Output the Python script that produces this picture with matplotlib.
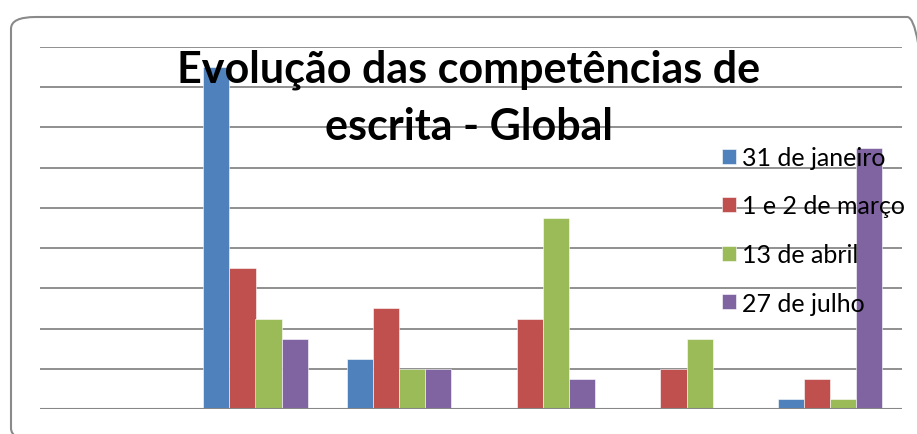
import numpy as np
import matplotlib.pyplot as plt
from matplotlib.patches import FancyBboxPatch

# data (levels 0..5, counts per session)
levels = ["0", "1", "2", "3", "4", "5"]
series = ["31 de janeiro", "1 e 2 de março", "13 de abril", "27 de julho"]
jan = [0, 34, 5, 0, 0, 1]
mar = [0, 14, 10, 9, 4, 3]
abr = [0, 9, 4, 19, 7, 1]
jul = [0, 7, 4, 3, 0, 26]
colors = ["#4F81BD", "#C0504D", "#9BBB59", "#8064A2"]
title_lines = ["Evolução das competências de", "escrita - Global"]

W, H = 917, 435
fig = plt.figure(figsize=(W / 100, H / 100), dpi=100)
ax = fig.add_axes([40 / W, 1 - 410 / H, 862 / W, 362 / H])

x = np.arange(len(levels))
w = 1 / 5.5
for i, (vals, lab, c) in enumerate(zip([jan, mar, abr, jul], series, colors)):
    ax.bar(x + (i - 1.5) * w, vals, width=w, color=c, label=lab,
           edgecolor="white", linewidth=0.4, zorder=3)

ax.set_xlim(-0.5, len(levels) - 0.5)
ax.set_ylim(0, 36)
ax.set_yticks(np.arange(0, 37, 4))
ax.yaxis.grid(True, color="#878787", linewidth=1.3, zorder=0)
ax.tick_params(length=0, labelleft=False, labelbottom=False)
for s in ax.spines.values():
    s.set_visible(False)
ax.axhline(0, color="#878787", linewidth=1.5, zorder=4)

# title, two lines
for txt, yb in zip(title_lines, [83, 140]):
    fig.text(469 / W, 1 - yb / H, txt, ha="center", va="baseline",
             fontsize=31, fontweight="bold", family="Lato", zorder=10)

leg = ax.legend(loc="upper left", bbox_to_anchor=(722 / W, 1 - 147 / H),
                bbox_transform=fig.transFigure, frameon=False,
                prop={"family": "Lato", "size": 18},
                handlelength=0.56, handleheight=0.56, handletextpad=0.25,
                labelspacing=1.02, borderpad=0, borderaxespad=0)
leg.set_zorder(10)

# rounded frame around the chart
frame = FancyBboxPatch((11 / W, 1 - 441 / H), 921 / W, 423 / H,
                       boxstyle="round,pad=0,rounding_size=0.027",
                       transform=fig.transFigure, fill=False,
                       edgecolor="#8a8a8a", linewidth=1.5, clip_on=False)
fig.patches.append(frame)

fig.savefig("out.png", dpi=100)
